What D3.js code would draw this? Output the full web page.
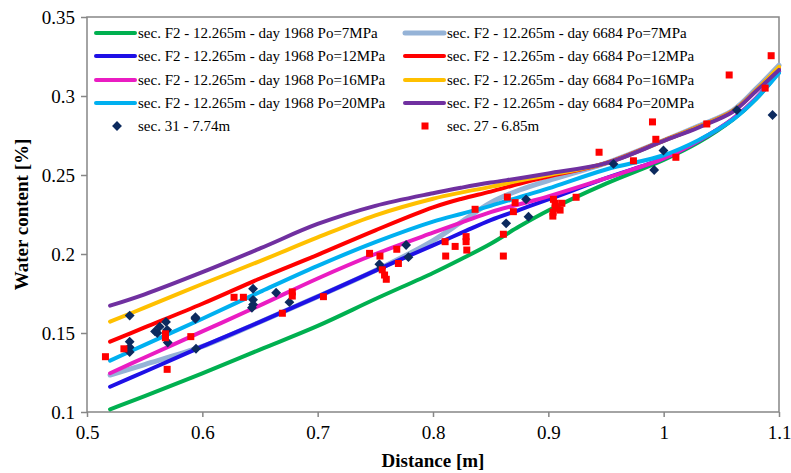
<!DOCTYPE html>
<html>
<head>
<meta charset="utf-8">
<script src="https://cdn.jsdelivr.net/npm/d3@7"></script>
<style>
  body { margin: 0; background: #fff; }
  svg text { font-family: "Liberation Serif", "Times New Roman", serif; }
</style>
</head>
<body>
<div id="chart"></div>
<script>
const distance = [0.52, 0.55, 0.6, 0.65, 0.7, 0.75, 0.8, 0.825, 0.85, 0.875, 0.9, 0.95, 1.0, 1.03, 1.06, 1.08, 1.1];

const d1968p7 = [0.1017, 0.110, 0.1245, 0.1395, 0.1545, 0.1715, 0.188, 0.197, 0.2065, 0.2175, 0.2275, 0.2445, 0.2595, 0.2705, 0.285, 0.298, 0.3155];
const d6684p7 = [0.1234, 0.130, 0.1415, 0.157, 0.173, 0.1895, 0.2085, 0.2205, 0.2325, 0.2405, 0.2465, 0.2575, 0.2718, 0.281, 0.291, 0.3045, 0.3195];
const d1968p12 = [0.116, 0.1255, 0.1415, 0.157, 0.173, 0.1895, 0.2055, 0.2135, 0.2215, 0.228, 0.2345, 0.248, 0.2605, 0.2715, 0.2855, 0.2985, 0.3155];
const d6684p12 = [0.1445, 0.1535, 0.1685, 0.1845, 0.1995, 0.215, 0.2295, 0.235, 0.2395, 0.2445, 0.249, 0.2575, 0.2718, 0.2805, 0.2905, 0.3035, 0.318];
const d1968p16 = [0.1245, 0.1345, 0.151, 0.1675, 0.1845, 0.2, 0.2135, 0.22, 0.2265, 0.2315, 0.2365, 0.248, 0.2605, 0.2715, 0.2855, 0.2985, 0.3155];
const d6684p16 = [0.1572, 0.166, 0.181, 0.1955, 0.2105, 0.2245, 0.235, 0.239, 0.2425, 0.2465, 0.25, 0.2575, 0.2718, 0.2805, 0.2905, 0.3035, 0.3185];
const d1968p20 = [0.1325, 0.1425, 0.159, 0.176, 0.1925, 0.2075, 0.2205, 0.2255, 0.2305, 0.236, 0.2415, 0.2535, 0.2625, 0.272, 0.285, 0.298, 0.3145];
const d6684p20 = [0.1673, 0.1745, 0.1885, 0.2035, 0.219, 0.2305, 0.2385, 0.242, 0.2452, 0.248, 0.251, 0.2575, 0.2716, 0.280, 0.290, 0.303, 0.3165];

// measured points [distance, water content]
const sec31 = [
  [0.537, 0.161], [0.537, 0.1445], [0.537, 0.141], [0.537, 0.138],
  [0.559, 0.151], [0.561, 0.150], [0.563, 0.154], [0.5685, 0.157], [0.5695, 0.152], [0.570, 0.144],
  [0.594, 0.160], [0.594, 0.159], [0.5945, 0.140],
  [0.644, 0.178], [0.644, 0.171], [0.644, 0.168], [0.643, 0.166],
  [0.664, 0.1755], [0.6755, 0.1695],
  [0.7535, 0.1935], [0.755, 0.191], [0.7767, 0.2057], [0.7787, 0.198],
  [0.8634, 0.2194], [0.8807, 0.2346], [0.8828, 0.2236],
  [0.9565, 0.257], [0.9918, 0.2532], [0.9998, 0.2655],
  [1.0635, 0.2911], [1.0944, 0.288]
];
const sec27 = [
  [0.516, 0.135], [0.532, 0.140], [0.568, 0.1495], [0.568, 0.147], [0.5695, 0.127], [0.590, 0.1477],
  [0.6275, 0.1726], [0.6356, 0.1726], [0.6694, 0.1625], [0.678, 0.176], [0.678, 0.1734],
  [0.705, 0.173], [0.745, 0.2004], [0.754, 0.1987], [0.756, 0.190], [0.758, 0.1867], [0.7595, 0.184],
  [0.7686, 0.203], [0.770, 0.194],
  [0.8105, 0.2078], [0.811, 0.1987], [0.8192, 0.2048], [0.8287, 0.211], [0.8287, 0.2078], [0.8293, 0.2025], [0.8365, 0.2283],
  [0.861, 0.2125], [0.861, 0.1987], [0.8645, 0.236], [0.8712, 0.2325], [0.8697, 0.2268],
  [0.9044, 0.2346], [0.9059, 0.2321], [0.9059, 0.2289], [0.9117, 0.2321], [0.9102, 0.2278], [0.9039, 0.224], [0.9041, 0.2265],
  [0.9241, 0.2359], [0.944, 0.2644], [0.9738, 0.259], [0.9903, 0.2836], [0.9932, 0.2726], [1.0106, 0.2612],
  [1.0374, 0.2823], [1.0568, 0.3133], [1.088, 0.305], [1.0932, 0.3255]
];

const xTicks = [0.5, 0.6, 0.7, 0.8, 0.9, 1, 1.1];
const yTicks = [0.1, 0.15, 0.2, 0.25, 0.3, 0.35];

// Excel legend order (row by row)
const series = [
  { name: "sec. F2 - 12.265m - day 1968 Po=7MPa", values: d1968p7, color: "#00b050", w: 4 },
  { name: "sec. F2 - 12.265m - day 6684 Po=7MPa", values: d6684p7, color: "#95b3d7", w: 5 },
  { name: "sec. F2 - 12.265m - day 1968 Po=12MPa", values: d1968p12, color: "#1e10e6", w: 4 },
  { name: "sec. F2 - 12.265m - day 6684 Po=12MPa", values: d6684p12, color: "#ff0000", w: 4 },
  { name: "sec. F2 - 12.265m - day 1968 Po=16MPa", values: d1968p16, color: "#ea1cc2", w: 4 },
  { name: "sec. F2 - 12.265m - day 6684 Po=16MPa", values: d6684p16, color: "#ffc000", w: 4 },
  { name: "sec. F2 - 12.265m - day 1968 Po=20MPa", values: d1968p20, color: "#00b0f0", w: 4 },
  { name: "sec. F2 - 12.265m - day 6684 Po=20MPa", values: d6684p20, color: "#7030a0", w: 4 }
];

const W = 791, H = 473;
const plot = { left: 87, top: 17, right: 779, bottom: 412 };

const svg = d3.select("#chart")
  .append("svg")
  .attr("width", W)
  .attr("height", H);

svg.append("rect").attr("width", W).attr("height", H).attr("fill", "#fff");

const x = d3.scaleLinear().domain([0.5, 1.1]).range([plot.left, plot.right]);
const y = d3.scaleLinear().domain([0.1, 0.35]).range([plot.bottom, plot.top]);

// axes
const gx = svg.append("g")
  .attr("transform", `translate(0, ${plot.bottom})`)
  .call(d3.axisBottom(x).tickValues(xTicks).tickSize(5).tickPadding(9).tickFormat(d3.format("")));

const gy = svg.append("g")
  .attr("transform", `translate(${plot.left}, 0)`)
  .call(d3.axisLeft(y).tickValues(yTicks).tickSize(6).tickPadding(6).tickFormat(d3.format("")));

[gx, gy].forEach(g => {
  g.select(".domain").remove();
  g.selectAll("line").attr("stroke", "#868686").attr("stroke-width", 1.5);
  g.selectAll("text")
    .style("font-family", "'Liberation Serif', serif")
    .style("font-size", "19px")
    .attr("fill", "#000");
});

svg.append("rect")
  .attr("x", plot.left)
  .attr("y", plot.top)
  .attr("width", plot.right - plot.left)
  .attr("height", plot.bottom - plot.top)
  .attr("fill", "none")
  .attr("stroke", "#868686")
  .attr("stroke-width", 1.5);

// curves
const line = d3.line()
  .x((d, i) => x(distance[i]))
  .y(d => y(d))
  .curve(d3.curveCatmullRom.alpha(0.5));

svg.selectAll(".curve")
  .data(series)
  .enter()
  .append("path")
  .attr("class", "curve")
  .attr("fill", "none")
  .attr("stroke", d => d.color)
  .attr("stroke-width", d => d.w)
  .attr("stroke-linecap", "round")
  .attr("d", d => line(d.values));

// measured points
const diamond = d3.symbol().type(d3.symbolDiamond2).size(62);

svg.selectAll(".sec31")
  .data(sec31)
  .enter()
  .append("path")
  .attr("class", "sec31")
  .attr("transform", d => `translate(${x(d[0])}, ${y(d[1])})`)
  .attr("d", diamond)
  .attr("fill", "#0c2a5e");

svg.selectAll(".sec27")
  .data(sec27)
  .enter()
  .append("rect")
  .attr("class", "sec27")
  .attr("x", d => x(d[0]) - 3.5)
  .attr("y", d => y(d[1]) - 3.5)
  .attr("width", 7)
  .attr("height", 7)
  .attr("fill", "#ff0000");

// legend
const legend = svg.append("g");
const rowY = [33, 56, 80, 103, 126];
const colX = [96, 405];

series.forEach((s, i) => {
  const cx = colX[i % 2], cy = rowY[Math.floor(i / 2)];
  legend.append("line")
    .attr("x1", cx).attr("x2", cx + 39)
    .attr("y1", cy).attr("y2", cy)
    .attr("stroke", s.color)
    .attr("stroke-width", s.w)
    .attr("stroke-linecap", "round");
  legend.append("text")
    .attr("x", cx + 42)
    .attr("y", cy + 5)
    .style("font-size", "15px")
    .text(s.name);
});

legend.append("path")
  .attr("transform", `translate(${colX[0] + 21}, ${rowY[4]})`)
  .attr("d", diamond)
  .attr("fill", "#0c2a5e");
legend.append("text")
  .attr("x", colX[0] + 42)
  .attr("y", rowY[4] + 5)
  .style("font-size", "15px")
  .text("sec. 31 - 7.74m");

legend.append("rect")
  .attr("x", colX[1] + 20 - 3.5)
  .attr("y", rowY[4] - 3.5)
  .attr("width", 7)
  .attr("height", 7)
  .attr("fill", "#ff0000");
legend.append("text")
  .attr("x", colX[1] + 42)
  .attr("y", rowY[4] + 5)
  .style("font-size", "15px")
  .text("sec. 27 - 6.85m");

// axis titles
svg.append("text")
  .attr("x", (plot.left + plot.right) / 2)
  .attr("y", 467)
  .style("text-anchor", "middle")
  .style("font-size", "19px")
  .style("font-weight", "bold")
  .text("Distance [m]");

svg.append("text")
  .attr("transform", `translate(28, ${(plot.top + plot.bottom) / 2}) rotate(-90)`)
  .style("text-anchor", "middle")
  .style("font-size", "19px")
  .style("font-weight", "bold")
  .text("Water content [%]");
</script>
</body>
</html>
